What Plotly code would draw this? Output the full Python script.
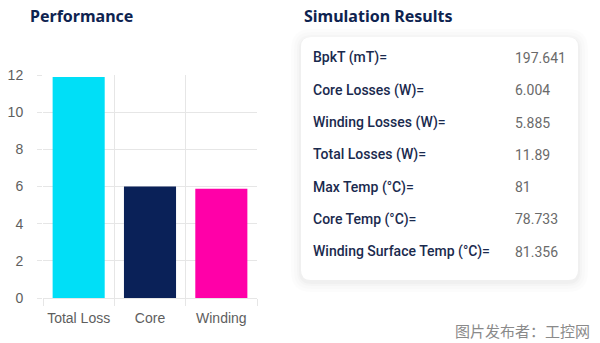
import plotly.graph_objects as go

# ---- data ----
categories = ["Total Loss", "Core", "Winding"]
loss_values = [11.89, 6.004, 5.885]
bar_colors = ["#00DFF7", "#0A2158", "#FF00A8"]
y_ticks = [0, 2, 4, 6, 8, 10, 12]

result_labels = ["BpkT (mT)=", "Core Losses (W)=", "Winding Losses (W)=", "Total Losses (W)=",
                 "Max Temp (°C)=", "Core Temp (°C)=", "Winding Surface Temp (°C)="]
result_values = ["197.641", "6.004", "5.885", "11.89", "81", "78.733", "81.356"]

W, H = 600, 343

def px(x):
    return x / W

def py(y):
    return 1 - y / H

fig = go.Figure()
fig.add_trace(go.Bar(x=categories, y=loss_values, marker=dict(color=bar_colors, line=dict(width=0)),
                     hoverinfo="skip"))

grid = "#E6E6E6"
fig.update_layout(
    width=W, height=H, margin=dict(l=0, r=0, t=0, b=0, autoexpand=False),
    paper_bgcolor="white", plot_bgcolor="white", showlegend=False, bargap=0.27,
    font=dict(family="Liberation Sans, Arial, sans-serif"),
    xaxis=dict(domain=[px(43), px(257)], type="category", tickson="boundaries",
               showgrid=True, gridcolor=grid, gridwidth=1, ticks="outside", ticklen=7,
               tickcolor=grid, showline=False, zeroline=False, ticklabelstandoff=10,
               tickangle=0, automargin=False,
               tickfont=dict(size=14, color="#5E5E5E")),
    yaxis=dict(domain=[py(298), py(75)], range=[0, 12], tickvals=y_ticks,
               showgrid=True, gridcolor=grid, gridwidth=1, ticks="outside", ticklen=5,
               tickcolor=grid, zeroline=True, zerolinecolor=grid, zerolinewidth=1,
               showline=False, ticklabelstandoff=11, automargin=False,
               tickfont=dict(size=14, color="#5E5E5E")),
)

annotations = []
annotations.append(dict(text="<b>Performance</b>", x=px(28), y=py(16), xref="paper", yref="paper",
                        xanchor="left", yanchor="middle", showarrow=False,
                        font=dict(family="Noto Sans", size=16, color="#0E2350", weight=800)))
annotations.append(dict(text="<b>Simulation Results</b>", x=px(302), y=py(16), xref="paper", yref="paper",
                        xanchor="left", yanchor="middle", showarrow=False,
                        font=dict(family="Noto Sans", size=16, color="#0E2350", weight=800)))

row_y0, row_step = 58, 32.3
for i, (lab, val) in enumerate(zip(result_labels, result_values)):
    yy = row_y0 + i * row_step
    annotations.append(dict(text=lab, x=px(311), y=py(yy), xref="paper", yref="paper",
                            xanchor="left", yanchor="middle", showarrow=False,
                            font=dict(family="Roboto", size=14, color="#1A2A4E", weight=500)))
    annotations.append(dict(text=val, x=px(513), y=py(yy), xref="paper", yref="paper",
                            xanchor="left", yanchor="middle", showarrow=False,
                            font=dict(family="Roboto", size=14, color="#6A6A6A")))

annotations.append(dict(text="图片发布者：工控网", x=px(592), y=py(330), xref="paper", yref="paper",
                        xanchor="right", yanchor="middle", showarrow=False,
                        font=dict(family="Noto Sans CJK SC", size=15, color="#8A8A8A")))

def rounded_path(x0, y0, x1, y1, r):
    rx, ry = r / W, r / H
    X0, X1 = px(x0), px(x1)
    Yt, Yb = py(y0), py(y1)
    return (f"M {X0+rx},{Yt} L {X1-rx},{Yt} Q {X1},{Yt} {X1},{Yt-ry} "
            f"L {X1},{Yb+ry} Q {X1},{Yb} {X1-rx},{Yb} L {X0+rx},{Yb} "
            f"Q {X0},{Yb} {X0},{Yb+ry} L {X0},{Yt-ry} Q {X0},{Yt} {X0+rx},{Yt} Z")

shapes = []
for k, op in [(10, 0.01), (7, 0.012), (4, 0.015), (2, 0.02)]:
    shapes.append(dict(type="path", xref="paper", yref="paper",
                       path=rounded_path(301 - k, 37 - k + 2, 578 + k, 280 + k + 2, 10 + k),
                       fillcolor=f"rgba(0,0,0,{op})", line=dict(width=0), layer="below"))
shapes.append(dict(type="path", xref="paper", yref="paper",
                   path=rounded_path(301, 37, 578, 280, 10),
                   fillcolor="white", line=dict(width=0), layer="below"))

fig.update_layout(annotations=annotations, shapes=shapes)
fig.write_html("out.html")
